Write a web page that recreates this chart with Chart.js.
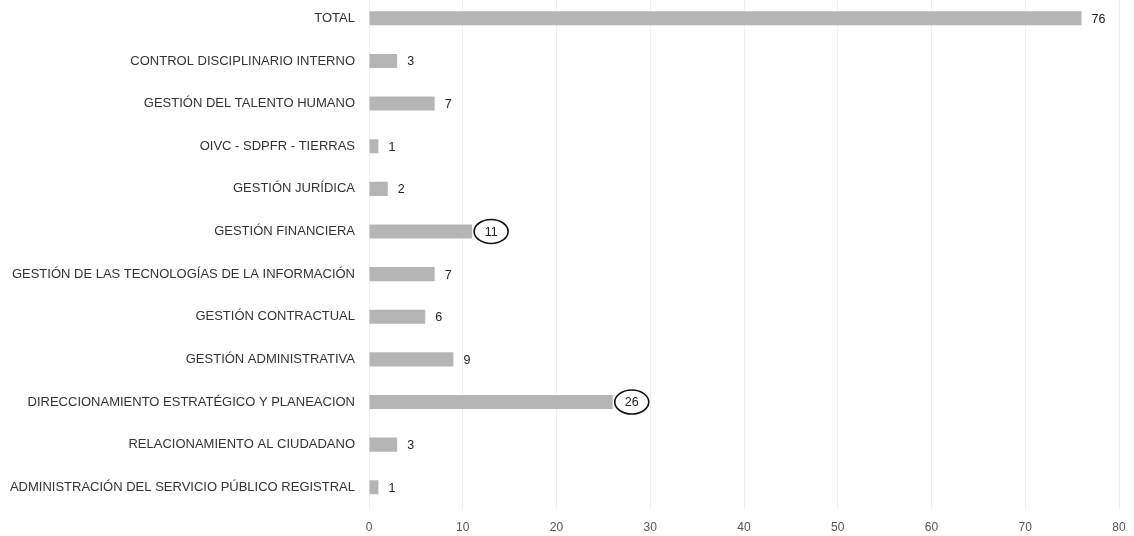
<!DOCTYPE html>
<html>
<head>
<meta charset="utf-8">
<script src="https://cdn.jsdelivr.net/npm/chart.js@4.4.1/dist/chart.umd.min.js"></script>
<style>
  html, body { margin: 0; padding: 0; background: #fff; overflow: hidden; }
  #wrap { position: relative; width: 1134px; height: 550px; margin-top: -3px; }
</style>
</head>
<body>
<div id="wrap"><canvas id="c" width="1134" height="550"></canvas></div>
<script>
const categories = [
  "TOTAL",
  "CONTROL DISCIPLINARIO INTERNO",
  "GESTIÓN DEL TALENTO HUMANO",
  "OIVC - SDPFR - TIERRAS",
  "GESTIÓN JURÍDICA",
  "GESTIÓN FINANCIERA",
  "GESTIÓN DE LAS TECNOLOGÍAS DE LA INFORMACIÓN",
  "GESTIÓN CONTRACTUAL",
  "GESTIÓN ADMINISTRATIVA",
  "DIRECCIONAMIENTO ESTRATÉGICO Y PLANEACION",
  "RELACIONAMIENTO AL CIUDADANO",
  "ADMINISTRACIÓN DEL SERVICIO PÚBLICO REGISTRAL"
];
const values = [76, 3, 7, 1, 2, 11, 7, 6, 9, 26, 3, 1];
const circled = ["GESTIÓN FINANCIERA", "DIRECCIONAMIENTO ESTRATÉGICO Y PLANEACION"];
const xTicks = [0, 10, 20, 30, 40, 50, 60, 70, 80];

const FONT = "'Liberation Sans', Arial, sans-serif";

// Value labels beside each bar, with an ellipse around the highlighted ones
const valueLabels = {
  id: 'valueLabels',
  afterDatasetsDraw(chart) {
    const ctx = chart.ctx;
    const meta = chart.getDatasetMeta(0);
    ctx.save();
    ctx.font = "12.5px " + FONT;
    ctx.fillStyle = '#222';
    ctx.textBaseline = 'middle';
    meta.data.forEach((bar, i) => {
      const txt = String(values[i]);
      if (circled.includes(categories[i])) {
        const cx = bar.x + 19;
        const cy = bar.y;
        ctx.textAlign = 'center';
        ctx.fillText(txt, cx, cy + 1);
        ctx.beginPath();
        ctx.ellipse(cx, cy, 17, 12, 0, 0, Math.PI * 2);
        ctx.strokeStyle = '#111';
        ctx.lineWidth = 1.6;
        ctx.stroke();
      } else {
        ctx.textAlign = 'left';
        ctx.fillText(txt, bar.x + 10, bar.y + 1);
      }
    });
    ctx.restore();
  }
};

new Chart(document.getElementById('c'), {
  type: 'bar',
  data: {
    labels: categories,
    datasets: [{
      data: values,
      backgroundColor: '#b5b5b5',
      borderWidth: 0,
      barPercentage: 0.66,
      categoryPercentage: 0.5
    }]
  },
  options: {
    indexAxis: 'y',
    responsive: false,
    animation: false,
    layout: { padding: { top: 0, right: 15, bottom: 0, left: 0 } },
    plugins: { legend: { display: false }, tooltip: { enabled: false } },
    scales: {
      x: {
        min: 0,
        max: 80,
        afterBuildTicks(scale) { scale.ticks = xTicks.map(v => ({ value: v })); },
        afterFit(scale) {
          scale.paddingLeft = 0;
          scale.paddingRight = 0;
        },
        grid: { color: '#f0f0f0', drawTicks: false },
        border: { display: false },
        ticks: { color: '#555', font: { family: FONT, size: 12 }, padding: 12 }
      },
      y: {
        afterFit(scale) {
          scale.width = 369;
          scale.paddingTop = 0;
          scale.paddingBottom = 0;
        },
        grid: { display: false, drawTicks: false },
        border: { display: false },
        ticks: { color: '#333', font: { family: FONT, size: 13 }, padding: 14 }
      }
    }
  },
  plugins: [valueLabels]
});
</script>
</body>
</html>
